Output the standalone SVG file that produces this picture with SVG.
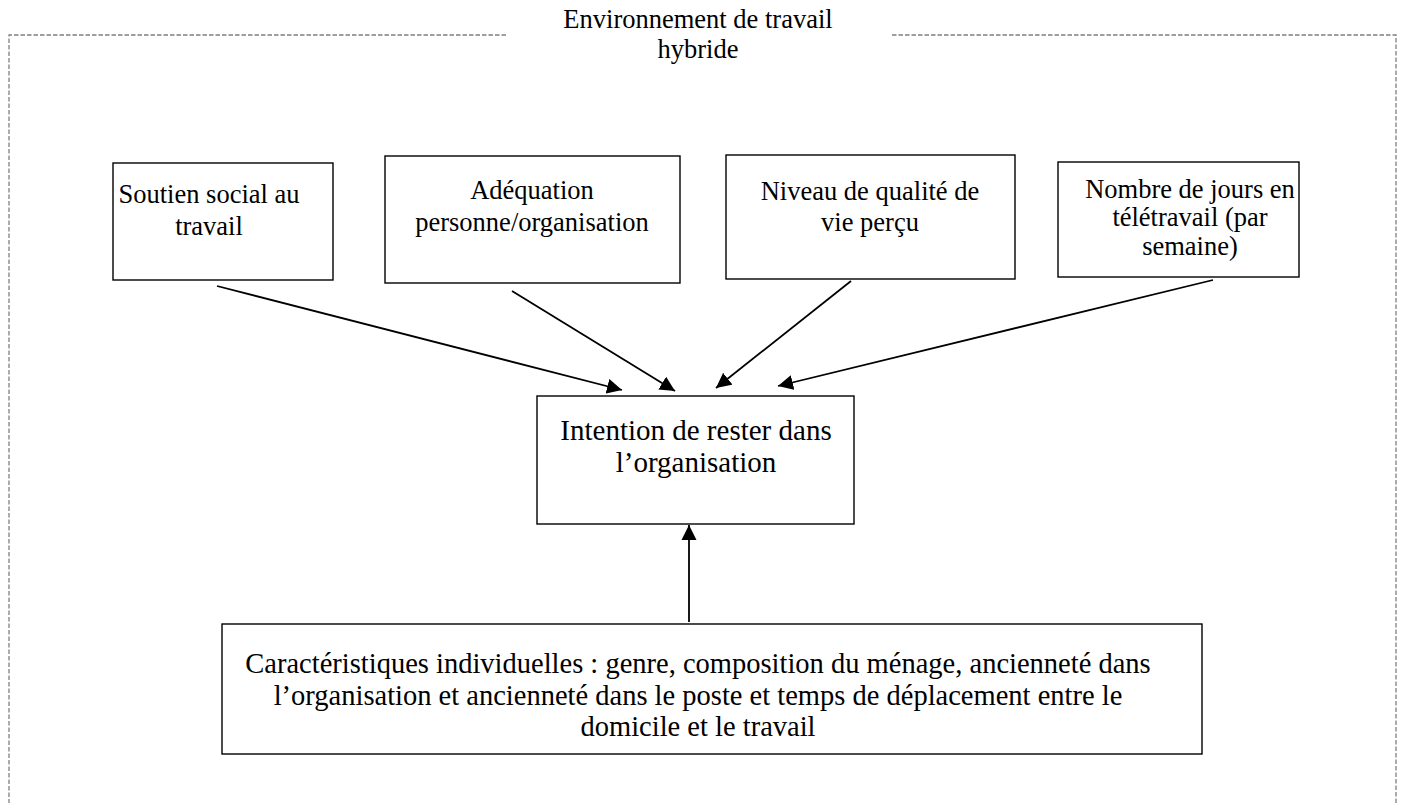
<svg xmlns="http://www.w3.org/2000/svg" width="1405" height="803" viewBox="0 0 1405 803">
<style>
.frame{fill:none;stroke:#808080;stroke-width:1.3;stroke-dasharray:4.5 2}
.box{fill:#fff;stroke:#000;stroke-width:1.4}
.t{font-family:"Liberation Serif","Times New Roman",serif;font-size:26.5px;fill:#000;text-anchor:middle}
.tl{font-size:29px}
.tc{font-size:28.5px}
.conn line{stroke:#000;stroke-width:1.8;marker-end:url(#ah)}
</style>
<defs>
<marker id="ah" markerUnits="userSpaceOnUse" markerWidth="16" markerHeight="16" viewBox="0 0 16 16" refX="15" refY="8" orient="auto">
<path d="M0,0.5 L15,8 L0,15.5 Z" fill="#000"/>
</marker>
</defs>
<rect width="1405" height="803" fill="#fff"/>
<g id="frame">
<path class="frame" d="M506,35 H9 V803 M892,35 H1396 V803"/>
<text class="t" x="698" y="28">Environnement de travail</text>
<text class="t" x="698" y="58">hybride</text>
</g>
<g id="n1">
<rect class="box" x="113" y="163" width="220" height="117"/>
<text class="t" x="209" y="203">Soutien social au</text>
<text class="t" x="209" y="235">travail</text>
</g>
<g id="n2">
<rect class="box" x="385" y="156" width="295" height="127"/>
<text class="t" x="532" y="199">Adéquation</text>
<text class="t" x="532" y="231">personne/organisation</text>
</g>
<g id="n3">
<rect class="box" x="726" y="155" width="289" height="124"/>
<text class="t" x="870" y="200">Niveau de qualité de</text>
<text class="t" x="870" y="231">vie perçu</text>
</g>
<g id="n4">
<rect class="box" x="1058" y="162" width="241" height="115"/>
<text class="t" x="1190" y="198">Nombre de jours en</text>
<text class="t" x="1190" y="226">télétravail (par</text>
<text class="t" x="1190" y="255">semaine)</text>
</g>
<g id="n5">
<rect class="box" x="537" y="396" width="317" height="128"/>
<text class="t tl" x="696" y="440">Intention de rester dans</text>
<text class="t tl" x="696" y="472">l’organisation</text>
</g>
<g id="n6">
<rect class="box" x="222" y="624" width="980" height="130"/>
<text class="t tc" x="698" y="673">Caractéristiques individuelles : genre, composition du ménage, ancienneté dans</text>
<text class="t tc" x="698" y="705">l’organisation et ancienneté dans le poste et temps de déplacement entre le</text>
<text class="t tc" x="698" y="736">domicile et le travail</text>
</g>
<g id="connectors" class="conn">
<line x1="217" y1="286" x2="622" y2="390"/>
<line x1="512" y1="291" x2="675" y2="391"/>
<line x1="851" y1="281" x2="716" y2="388"/>
<line x1="1213" y1="280" x2="778" y2="386"/>
<line x1="689" y1="622" x2="689" y2="525"/>
</g>
</svg>
